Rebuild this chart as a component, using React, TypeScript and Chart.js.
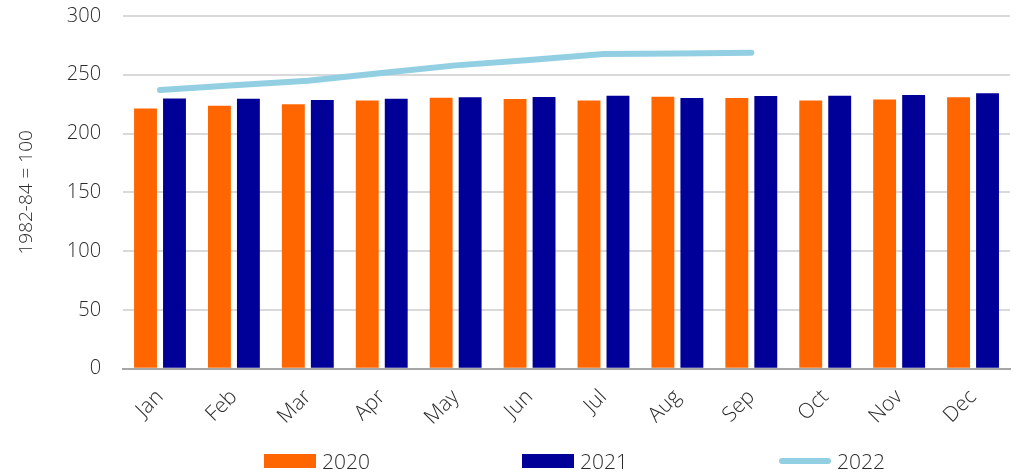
import React, { useEffect, useRef } from "react";
import { Chart, registerables } from "chart.js";

Chart.register(...registerables);

const months = ["Jan", "Feb", "Mar", "Apr", "May", "Jun", "Jul", "Aug", "Sep", "Oct", "Nov", "Dec"];
const series2020 = [221.4, 223.6, 225.0, 228.2, 230.5, 229.3, 228.2, 231.3, 230.2, 228.2, 229.0, 230.8];
const series2021 = [229.9, 229.6, 228.5, 229.6, 230.8, 231.0, 232.2, 230.2, 231.9, 232.2, 232.7, 234.2];
const series2022 = [237.1, 241.0, 244.9, 251.5, 258.0, 262.6, 267.7, 268.2, 268.8];
const yTicks = [0, 50, 100, 150, 200, 250, 300];
const yTitle = "1982-84 = 100";

const ORANGE = "#FF6600";
const NAVY = "#000099";
const LIGHT = "#92CFE3";
const TEXT = "#2B2B2B";
const FONT = "'Open Sans', 'DejaVu Sans', sans-serif";

export default function App() {
  const ref = useRef<HTMLCanvasElement | null>(null);

  useEffect(() => {
    if (!ref.current) return;
    const chart = new Chart(ref.current, {
      type: "bar",
      data: {
        labels: months,
        datasets: [
          {
            type: "line",
            label: "2022",
            data: series2022,
            borderColor: LIGHT,
            backgroundColor: LIGHT,
            borderWidth: 6,
            pointRadius: 0,
            borderCapStyle: "round",
            borderJoinStyle: "round",
            tension: 0,
            order: 0,
          } as any,
          {
            label: "2020",
            data: series2020,
            backgroundColor: ORANGE,
            categoryPercentage: 0.784,
            barPercentage: 0.79,
            order: 1,
          },
          {
            label: "2021",
            data: series2021,
            backgroundColor: NAVY,
            categoryPercentage: 0.784,
            barPercentage: 0.79,
            order: 1,
          },
        ],
      },
      options: {
        animation: false,
        responsive: false,
        maintainAspectRatio: false,
        layout: { padding: { left: 15, right: 16, top: 16, bottom: 26 } },
        plugins: {
          legend: { display: false },
          tooltip: { enabled: false },
          title: { display: false },
        },
        scales: {
          x: {
            grid: { display: false, drawTicks: false },
            border: { display: true, color: "#A6A6A6", width: 2 },
            ticks: {
              color: TEXT,
              font: { family: FONT, size: 21, weight: 300 as any },
              minRotation: 45,
              maxRotation: 45,
              padding: 16,
            },
          },
          y: {
            min: 0,
            max: 300,
            afterBuildTicks: (axis: any) => {
              axis.ticks = yTicks.map((v) => ({ value: v }));
            },
            afterFit: (axis: any) => {
              axis.paddingTop = 0;
              axis.paddingBottom = 0;
            },
            grid: { color: "#D9D9D9", lineWidth: 2, drawTicks: false },
            border: { display: false },
            ticks: {
              color: TEXT,
              font: { family: FONT, size: 20, weight: 300 as any },
              padding: 22,
            },
            title: {
              display: true,
              text: yTitle,
              color: TEXT,
              font: { family: FONT, size: 19, weight: 300 as any },
              padding: { top: 0, bottom: 7 },
            },
          },
        },
      },
    });
    return () => chart.destroy();
  }, []);

  const legendItems = [
    { label: "2020", color: ORANGE, kind: "box", left: 264 },
    { label: "2021", color: NAVY, kind: "box", left: 522 },
    { label: "2022", color: LIGHT, kind: "line", left: 779 },
  ];

  return (
    <div style={{ position: "fixed", left: 0, top: 0, width: 1026, height: 472, background: "#fff" }}>
      <canvas ref={ref} width={1026} height={472} style={{ width: 1026, height: 472, display: "block" }} />
      {legendItems.map((it) => (
        <div
          key={it.label}
          style={{
            position: "absolute",
            left: it.left,
            top: 448,
            height: 26,
            display: "flex",
            alignItems: "center",
            fontFamily: FONT,
            fontWeight: 300,
            fontSize: 21,
            color: TEXT,
          }}
        >
          <span
            style={{
              display: "inline-block",
              width: 52,
              height: it.kind === "box" ? 14 : 6,
              borderRadius: it.kind === "box" ? 0 : 3,
              background: it.color,
              marginRight: 6,
            }}
          />
          <span>{it.label}</span>
        </div>
      ))}
    </div>
  );
}
